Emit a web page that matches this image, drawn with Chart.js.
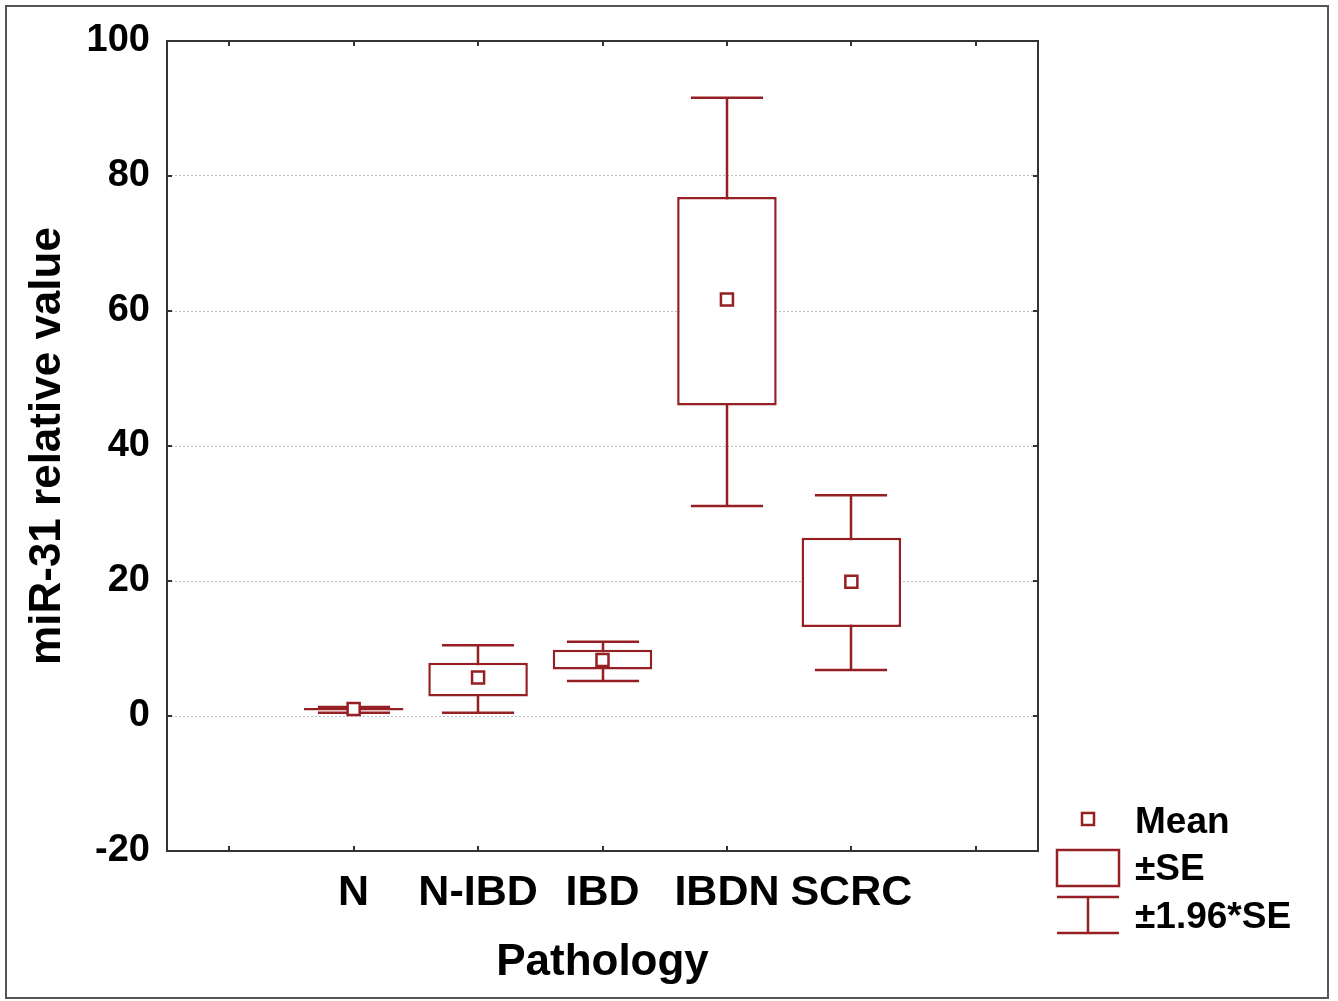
<!DOCTYPE html>
<html>
<head>
<meta charset="utf-8">
<script src="https://cdn.jsdelivr.net/npm/chart.js@4.4.0/dist/chart.umd.min.js"></script>
<style>
  html, body { margin: 0; padding: 0; background: #fff; }
  canvas { display: block; }
</style>
</head>
<body>
<canvas id="boxChart" width="1338" height="1001"></canvas>
<script>
// categories (empty slots at both ends, like the original plot)
const categories = ['', 'N', 'N-IBD', 'IBD', 'IBDN', 'SCRC', ''];
// mean, +/-SE box and +/-1.96*SE whiskers
const means  = [null, 1.05, 5.7, 8.3, 61.7, 19.9, null];
const seLow  = [null, 0.8, 2.9, 6.9, 46.0, 13.2, null];
const seHigh = [null, 1.2, 7.9, 9.8, 76.9, 26.4, null];
const ciLow  = [null, 0.5, 0.5, 5.2, 31.1, 6.8, null];
const ciHigh = [null, 1.35, 10.5, 11.0, 91.6, 32.7, null];
const legendLabels = ['Mean', '±SE', '±1.96*SE'];

const RED = '#951f22';
const FONT = '"Liberation Sans", Arial, sans-serif';
const LW = 2.5;

const boxPlugin = {
  id: 'boxPlugin',
  beforeDraw(chart) {
    const ctx = chart.ctx;
    ctx.save();
    ctx.fillStyle = '#fff';
    ctx.fillRect(0, 0, chart.width, chart.height);
    ctx.restore();
  },
  // whiskers go under the white boxes
  beforeDatasetsDraw(chart) {
    const { ctx, scales: { x, y } } = chart;
    const catW = x.getPixelForValue(1) - x.getPixelForValue(0);
    const half = catW * 0.29;
    ctx.save();
    ctx.strokeStyle = RED;
    ctx.lineWidth = LW;
    categories.forEach((c, i) => {
      if (ciLow[i] == null) return;
      const cx = Math.round(x.getPixelForValue(i));
      const yl = y.getPixelForValue(ciLow[i]);
      const yh = y.getPixelForValue(ciHigh[i]);
      ctx.beginPath();
      ctx.moveTo(cx, yh); ctx.lineTo(cx, yl);
      ctx.moveTo(cx - half, yh); ctx.lineTo(cx + half, yh);
      ctx.moveTo(cx - half, yl); ctx.lineTo(cx + half, yl);
      ctx.stroke();
    });
    ctx.restore();
  },
  afterDraw(chart) {
    const { ctx, chartArea: a, scales: { x, y } } = chart;
    ctx.save();
    // plot frame + inward ticks
    ctx.strokeStyle = '#333';
    ctx.lineWidth = 2;
    ctx.strokeRect(a.left, a.top, a.right - a.left, a.bottom - a.top);
    ctx.beginPath();
    x.ticks.forEach((t, i) => {
      const px = Math.round(x.getPixelForTick(i));
      ctx.moveTo(px, a.top); ctx.lineTo(px, a.top + 5);
      ctx.moveTo(px, a.bottom); ctx.lineTo(px, a.bottom - 5);
    });
    y.ticks.forEach(t => {
      const py = Math.round(y.getPixelForValue(t.value));
      ctx.moveTo(a.left, py); ctx.lineTo(a.left + 5, py);
      ctx.moveTo(a.right, py); ctx.lineTo(a.right - 5, py);
    });
    ctx.stroke();

    // outer border of the figure
    ctx.strokeStyle = '#555';
    ctx.strokeRect(6, 6, 1322, 992);

    // legend
    const lx = a.right + 18;
    ctx.strokeStyle = RED;
    ctx.fillStyle = '#fff';
    ctx.lineWidth = LW;
    ctx.fillRect(lx + 26, 813, 12, 12);
    ctx.strokeRect(lx + 26, 813, 12, 12);
    ctx.strokeRect(lx + 1, 850, 62, 36);
    ctx.beginPath();
    ctx.moveTo(lx + 1, 897); ctx.lineTo(lx + 63, 897);
    ctx.moveTo(lx + 32, 897); ctx.lineTo(lx + 32, 933);
    ctx.moveTo(lx + 1, 933); ctx.lineTo(lx + 63, 933);
    ctx.stroke();
    ctx.fillStyle = '#000';
    ctx.font = 'bold 37px ' + FONT;
    ctx.textBaseline = 'alphabetic';
    ctx.textAlign = 'left';
    const baselines = [833, 880, 928];
    legendLabels.forEach((t, i) => ctx.fillText(t, lx + 79, baselines[i]));
    ctx.restore();
  }
};

new Chart(document.getElementById('boxChart'), {
  type: 'bar',
  data: {
    labels: categories,
    datasets: [
      {
        type: 'line',
        label: 'Mean',
        data: means,
        showLine: false,
        pointStyle: 'rect',
        pointRadius: 8.5,
        pointBorderWidth: LW,
        pointBorderColor: RED,
        pointBackgroundColor: '#fff',
        order: 0
      },
      {
        type: 'bar',
        label: '±SE',
        data: seLow.map((v, i) => v == null ? null : [v, seHigh[i]]),
        backgroundColor: '#fff',
        borderColor: RED,
        borderWidth: LW,
        borderSkipped: false,
        barPercentage: 0.8,
        categoryPercentage: 1,
        order: 1
      }
    ]
  },
  options: {
    responsive: false,
    animation: false,
    layout: { padding: { top: 41, right: 300, left: 0, bottom: 0 } },
    plugins: { legend: { display: false }, tooltip: { enabled: false } },
    scales: {
      x: {
        offset: true,
        grid: { display: false },
        border: { display: false },
        ticks: {
          autoSkip: false, maxRotation: 0, padding: 8, color: '#000',
          font: { family: FONT, size: 43, weight: 'bold' }
        },
        title: {
          display: true, text: 'Pathology', color: '#000',
          font: { family: FONT, size: 44, weight: 'bold' },
          padding: { top: 0, bottom: 12 }
        },
        afterFit(s) { s.height = 150; }
      },
      y: {
        min: -20,
        max: 100,
        ticks: {
          stepSize: 20, padding: 17, color: '#000',
          font: { family: FONT, size: 38, weight: 'bold' }
        },
        grid: { color: '#bdbdbd', lineWidth: 1, drawTicks: false },
        border: { display: false, dash: [2, 2] },
        title: {
          display: true, text: 'miR-31 relative value', color: '#000',
          font: { family: FONT, size: 44, weight: 'bold' },
          padding: { top: 21, bottom: 0 }
        },
        afterFit(s) { s.width = 167; }
      }
    }
  },
  plugins: [boxPlugin]
});
</script>
</body>
</html>
